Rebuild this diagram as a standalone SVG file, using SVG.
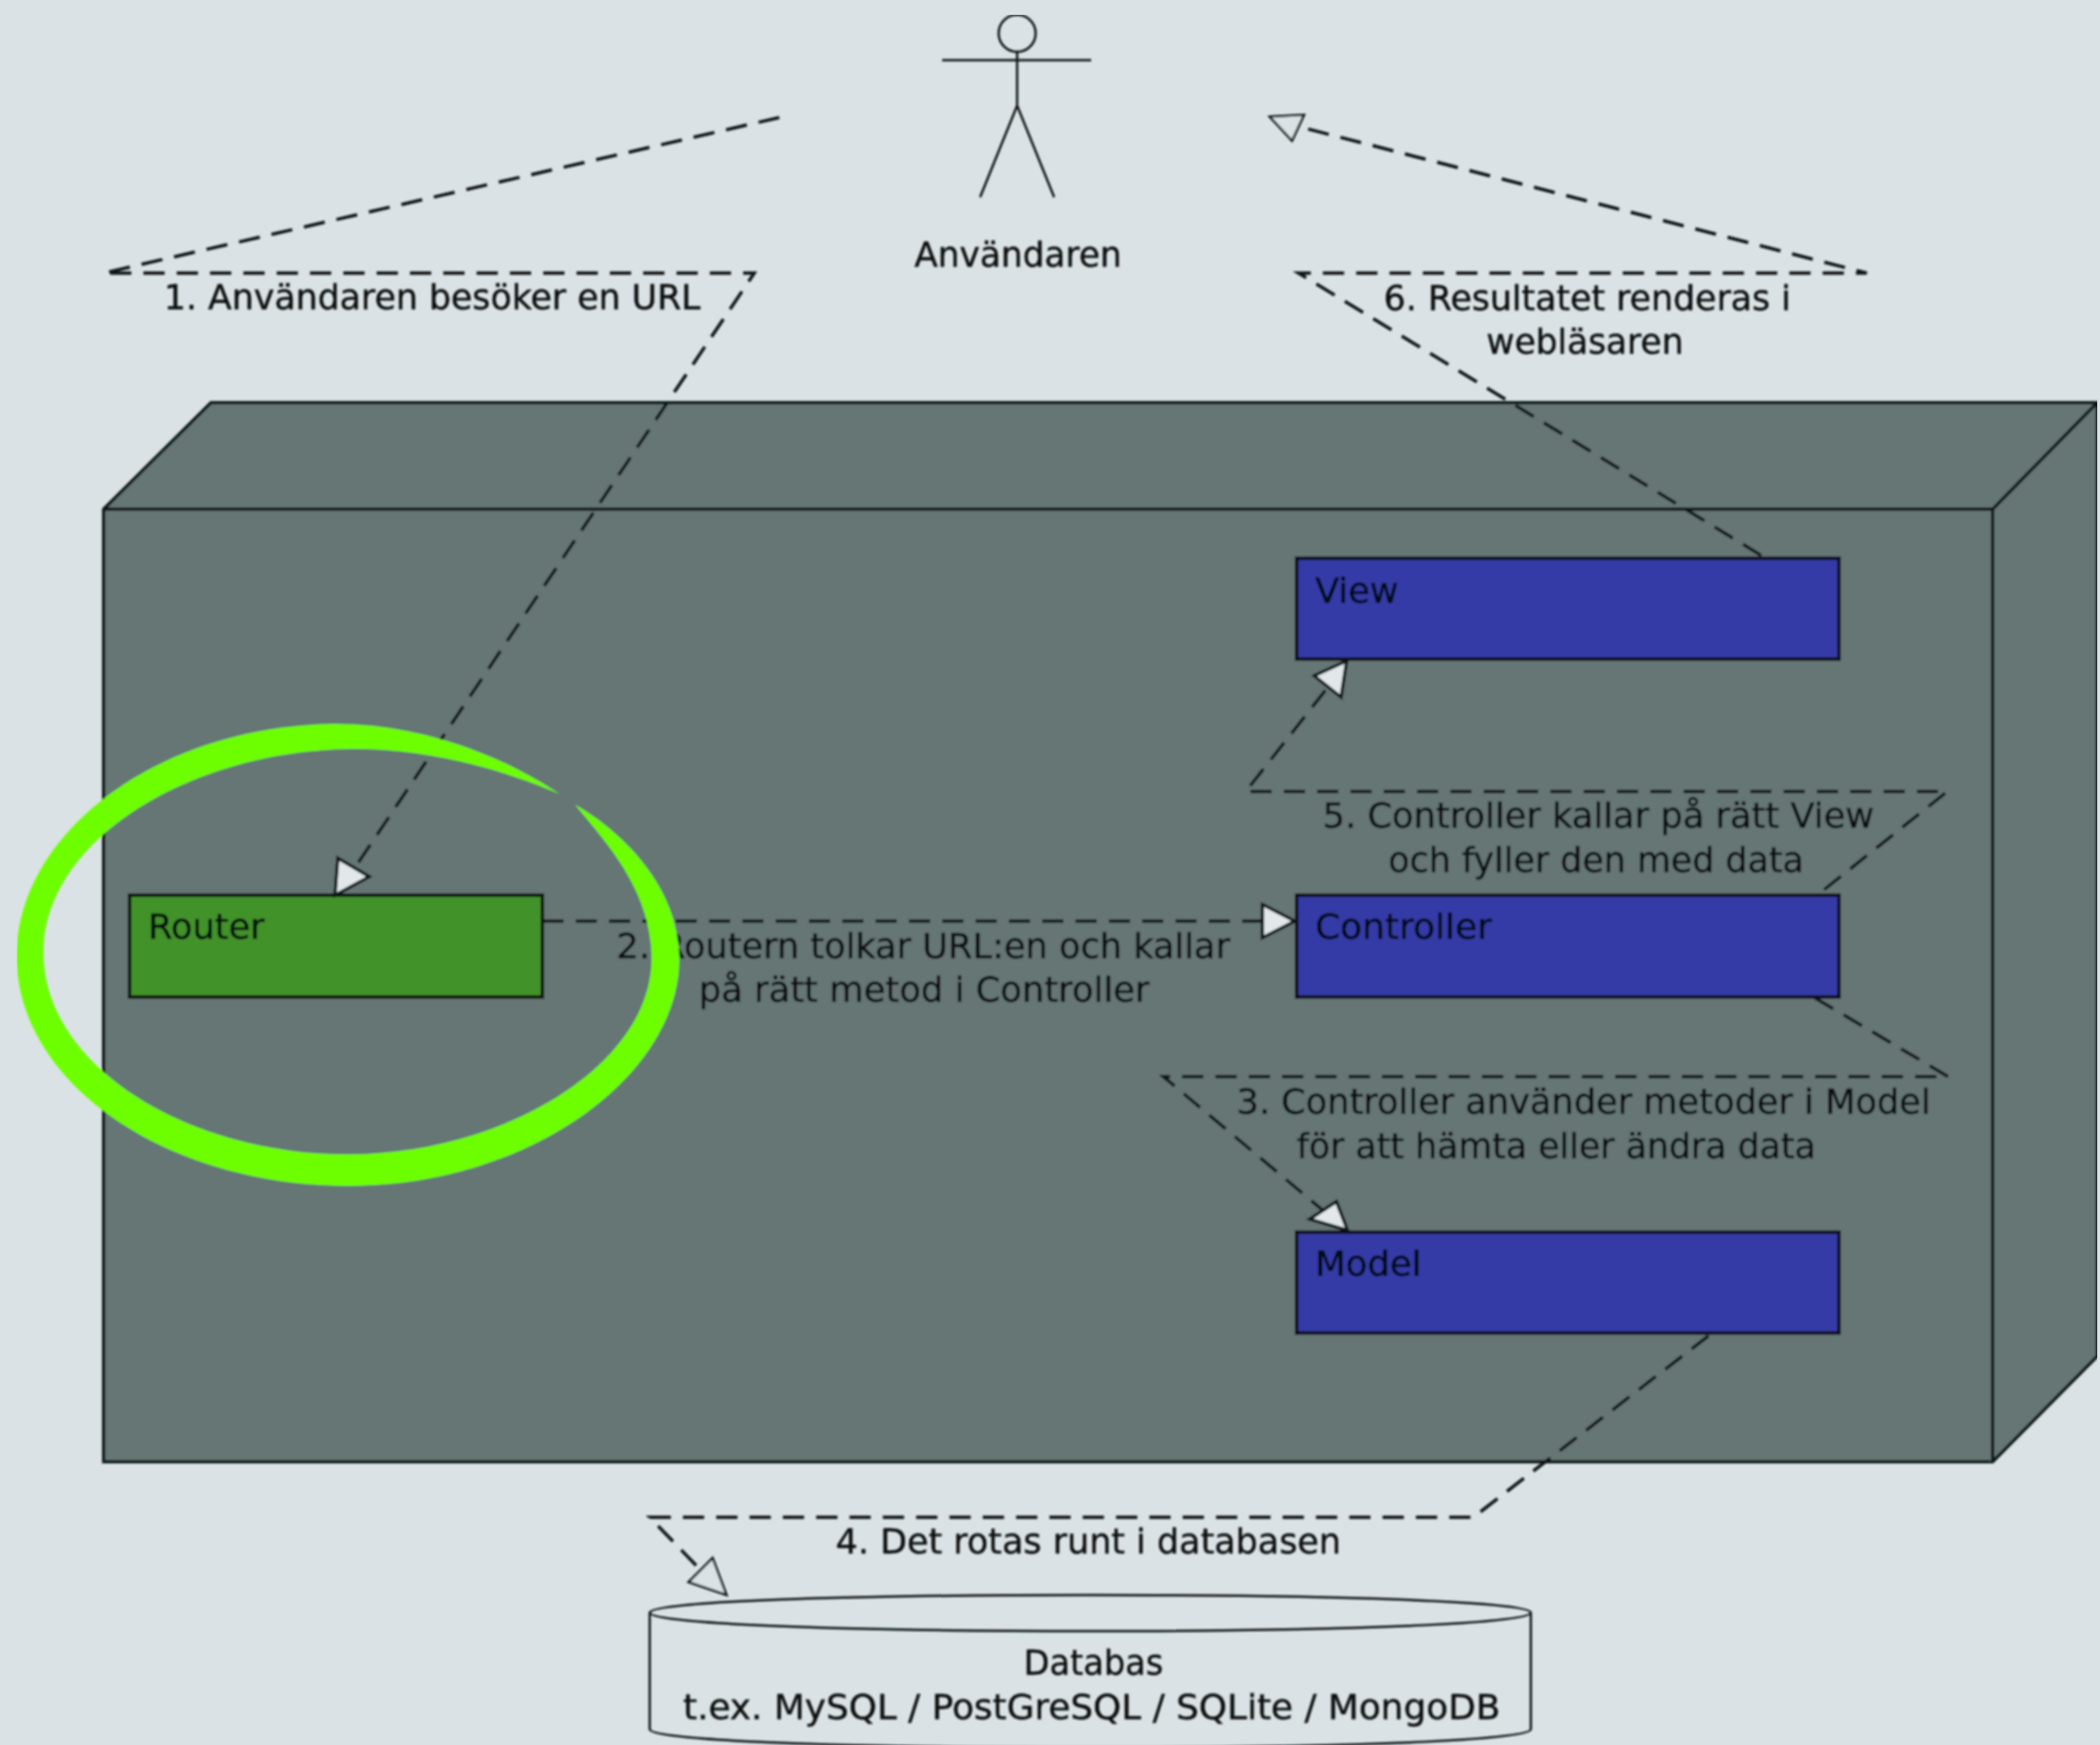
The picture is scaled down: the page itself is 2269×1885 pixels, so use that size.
<svg xmlns="http://www.w3.org/2000/svg" width="2269" height="1885" viewBox="0 0 2269 1885">
<style>
text{font-family:"DejaVu Sans","Liberation Sans",sans-serif;font-size:38px;fill:#0c0f11;stroke:#0c0f11;stroke-width:.4}
.ink{fill:#04070e;stroke:#04070e}
.dash{fill:none;stroke:#0e1214;stroke-width:3.5;stroke-dasharray:23 13}
.head{fill:#e2e8ea;stroke:#0e1214;stroke-width:3.5;stroke-linejoin:miter}
.headout{fill:#dae2e5;stroke:#0e1214;stroke-width:2.5}
.blue{fill:#343ba6;stroke:#080c1a;stroke-width:4}
.thin{fill:none;stroke:#0e1214;stroke-width:2.5}
.box{fill:#657675;stroke:#0e1818;stroke-width:3.5;stroke-linejoin:miter}
</style>
<defs><filter id="soft" x="0" y="0" width="100%" height="100%"><feGaussianBlur stdDeviation="0.8"/></filter></defs>
<rect width="2269" height="1885" fill="#dae2e5"/>
<g filter="url(#soft)">
<g id="server">
<path class="box" d="M112 550L228 435H2266V1465L2153 1579H112Z"/>
<path class="box" d="M112 550H2153V1579M2153 550L2266 435"/>
</g>
<g id="actor">
<circle class="thin" cx="1099" cy="36" r="20"/>
<path class="thin" d="M1018 65H1179M1099 56V114M1059 213L1099 114L1139 213"/>
<text x="988" y="288" textLength="224" lengthAdjust="spacingAndGlyphs">Användaren</text>
</g>
<g id="router">
<rect x="140" y="967" width="446" height="110" fill="#429229" stroke="#0e160c" stroke-width="4"/>
<text class="ink" x="160" y="1014" textLength="126" lengthAdjust="spacingAndGlyphs">Router</text>
</g>
<g id="view">
<rect class="blue" x="1401" y="603" width="586" height="109"/>
<text class="ink" x="1421" y="651" textLength="90" lengthAdjust="spacingAndGlyphs">View</text>
</g>
<g id="controller">
<rect class="blue" x="1401" y="967" width="586" height="110"/>
<text class="ink" x="1421" y="1014" textLength="191" lengthAdjust="spacingAndGlyphs">Controller</text>
</g>
<g id="model">
<rect class="blue" x="1401" y="1331" width="586" height="109"/>
<text class="ink" x="1421" y="1378" textLength="115" lengthAdjust="spacingAndGlyphs">Model</text>
</g>
<g id="database">
<path class="thin" d="M702 1742C702 1730 910 1723 1178 1723C1446 1723 1654 1730 1654 1742C1654 1754 1446 1762 1178 1762C910 1762 702 1754 702 1742V1868C702 1880 910 1888 1178 1888C1446 1888 1654 1880 1654 1868V1742"/>
<text x="1106" y="1809" textLength="151" lengthAdjust="spacingAndGlyphs">Databas</text>
<text x="738" y="1857" textLength="883" lengthAdjust="spacingAndGlyphs">t.ex. MySQL / PostGreSQL / SQLite / MongoDB</text>
</g>
<g id="connectors">
<g id="c1">
<path class="dash" d="M842 127L112 295H815L385 935"/>
<polygon class="head" points="365,927 399,947 362,967"/>
<text x="177" y="334" textLength="580" lengthAdjust="spacingAndGlyphs">1. Användaren besöker en URL</text>
</g>
<g id="c2">
<path class="dash" d="M586 995H1365"/>
<polygon class="head" points="1364,977 1399,995 1364,1013"/>
<text x="666" y="1035" textLength="663" lengthAdjust="spacingAndGlyphs">2. Routern tolkar URL:en och kallar</text>
<text x="755" y="1082" textLength="487" lengthAdjust="spacingAndGlyphs">på rätt metod i Controller</text>
</g>
<g id="c3">
<path class="dash" d="M1961 1078L2105 1163H1257L1430 1308"/>
<polygon class="head" points="1415,1317 1444,1298 1456,1329"/>
<text x="1336" y="1203" textLength="750" lengthAdjust="spacingAndGlyphs">3. Controller använder metoder i Model</text>
<text x="1401" y="1251" textLength="561" lengthAdjust="spacingAndGlyphs">för att hämta eller ändra data</text>
</g>
<g id="c4">
<path class="dash" d="M1846 1443L1592 1639H702L757 1696"/>
<polygon class="headout" points="770,1683 744,1709 785,1723"/>
<text x="903" y="1678" textLength="546" lengthAdjust="spacingAndGlyphs">4. Det rotas runt i databasen</text>
</g>
<g id="c5">
<path class="dash" d="M1971 961L2104 855H1346L1435 742" />
<polygon class="head" points="1455,714 1420,730 1449,753"/>
<text x="1429" y="894" textLength="596" lengthAdjust="spacingAndGlyphs">5. Controller kallar på rätt View</text>
<text x="1500" y="942" textLength="449" lengthAdjust="spacingAndGlyphs">och fyller den med data</text>
</g>
<g id="c6">
<path class="dash" d="M1903 600L1403 295H2017L1385 132"/>
<polygon class="headout" points="1372,126 1409,124 1396,152"/>
<text x="1495" y="335" textLength="440" lengthAdjust="spacingAndGlyphs">6. Resultatet renderas i</text>
<text x="1606" y="382" textLength="213" lengthAdjust="spacingAndGlyphs">webläsaren</text>
</g>
</g>
<path id="highlight-ring" fill="#6dff00" d="M621 869C675 900 734 960 734 1036C734 1160 575 1281 376 1281C180 1281 18 1170 18 1033C18 900 170 784 362 782C460 782 550 820 605 858C540 830 460 808 378 809C200 812 47 910 47 1029C47 1150 200 1247 376 1247C545 1247 704 1150 704 1036C704 965 660 915 621 869Z"/>
</g>
</svg>
